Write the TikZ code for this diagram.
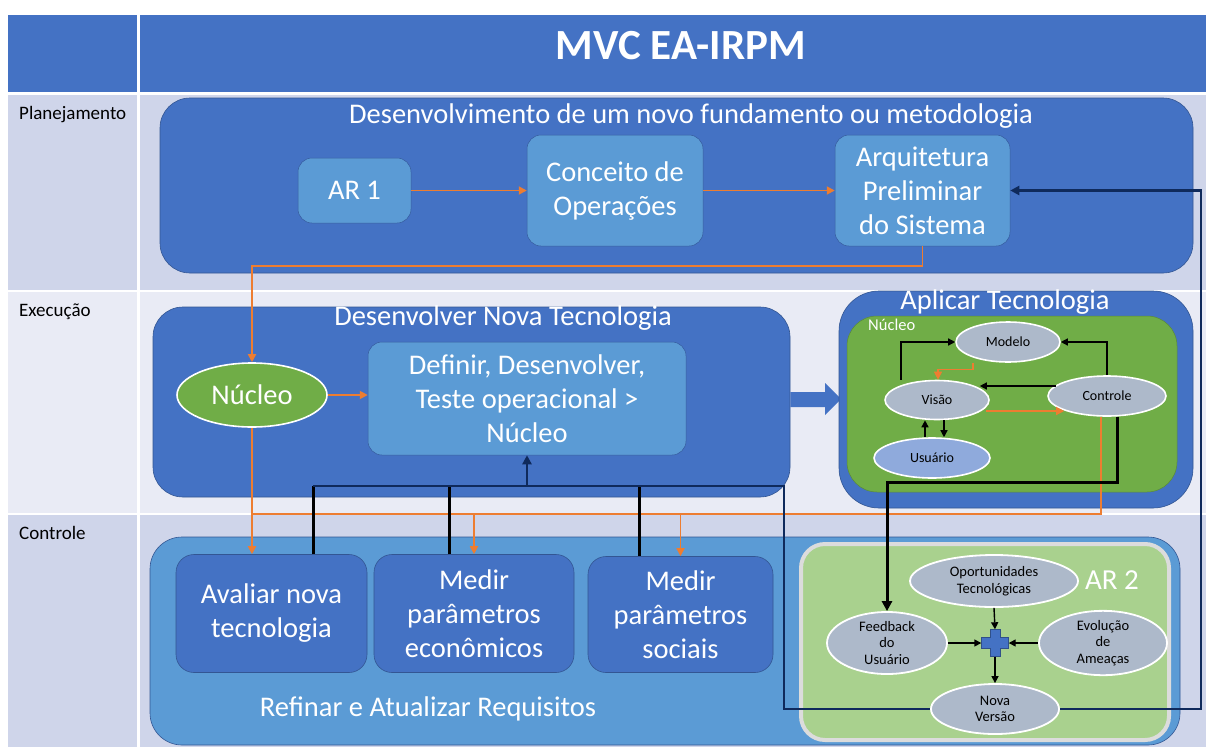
\documentclass[tikz,border=0pt]{standalone}
\usepackage{fontspec}
\setmainfont{Carlito}
\usetikzlibrary{shapes.geometric,arrows.meta,calc}

\definecolor{hdrblue}{HTML}{4472C4}
\definecolor{midblue}{HTML}{5B9BD5}
\definecolor{rowdark}{HTML}{CFD5EA}
\definecolor{rowlight}{HTML}{E9EBF5}
\definecolor{leaf}{HTML}{70AD47}
\definecolor{paleleaf}{HTML}{A9D18E}
\definecolor{slate}{HTML}{ADB9CA}
\definecolor{skyell}{HTML}{8FAADC}
\definecolor{flow}{HTML}{ED7D31}
\definecolor{navyline}{HTML}{0F2A5C}
\definecolor{edgegray}{HTML}{DCDCDC}

\newcommand{\fsz}[2]{\fontsize{#1}{#2}\selectfont}

\tikzset{
  bigbox/.style={rounded corners=30pt, fill=hdrblue, draw=hdrblue!75!black, line width=0.6pt},
  stepbox/.style={rounded corners=14pt, fill=midblue, draw=hdrblue!80!black, line width=0.5pt,
    text=white, align=center, font=\fsz{28.5}{34}, inner sep=0pt},
  taskbox/.style={rounded corners=18pt, fill=hdrblue, draw=hdrblue!75!black, line width=0.6pt,
    text=white, align=center, font=\fsz{28.5}{34}, inner sep=0pt},
  oval/.style={ellipse, fill=slate, draw=white, line width=1.6pt, inner sep=0pt,
    align=center, font=\fsz{14}{16}},
  ovalb/.style={ellipse, fill=slate, draw=white, line width=1.8pt, inner sep=0pt,
    align=center, font=\fsz{14.5}{16.5}},
  whitetxt/.style={text=white, inner sep=0pt},
  oarr/.style={draw=flow, line width=1.8pt, -{Triangle[length=8pt,width=8pt]}},
  oline/.style={draw=flow, line width=1.8pt},
  karr/.style={draw=black, line width=1.4pt, -{Triangle[length=7pt,width=7pt]}},
  kthick/.style={draw=black, line width=3pt},
  narr/.style={draw=navyline, line width=2.6pt, -{Triangle[length=9pt,width=9pt]}},
  nline/.style={draw=navyline, line width=2.6pt},
}

\begin{document}
\begin{tikzpicture}[x=1pt,y=-1pt]
\useasboundingbox (0,0) rectangle (1206,747);
\fill[white] (0,0) rectangle (1206,747);

% ---- table frame ----
\fill[hdrblue] (8,15) rectangle (137,92);
\fill[hdrblue] (140,15) rectangle (1206,92);
\fill[rowdark] (8,95) rectangle (137,290);
\fill[rowdark] (140,95) rectangle (1206,290);
\fill[rowlight] (8,292) rectangle (137,513);
\fill[rowlight] (140,292) rectangle (1206,513);
\fill[rowdark] (8,515) rectangle (137,747);
\fill[rowdark] (140,515) rectangle (1206,747);

\node[whitetxt, font=\fsz{43}{50}\bfseries] (title) at (681,46) {MVC EA-IRPM};
\node[anchor=base west, inner sep=0pt, font=\fsz{19}{22}] (lplan) at (19,119) {Planejamento};
\node[anchor=base west, inner sep=0pt, font=\fsz{19}{22}] (lexec) at (19,316) {Execução};
\node[anchor=base west, inner sep=0pt, font=\fsz{19}{22}] (lctrl) at (19,539) {Controle};

% ---- planning ----
\node[bigbox, minimum width=1033, minimum height=175] (plan) at (676.5,185.5) {};
\node[whitetxt, font=\fsz{28.5}{32}] (plant) at (691,116) {Desenvolvimento de um novo fundamento ou metodologia};
\node[stepbox, minimum width=113, minimum height=65] (ar1) at (354.5,190.5) {AR 1};
\node[stepbox, minimum width=176, minimum height=111] (conc) at (615,190.5) {Conceito de\\Operações};
\node[stepbox, minimum width=175, minimum height=111] (arq) at (922.5,190.5) {Arquitetura\\Preliminar\\do Sistema};

% ---- execution ----
\node[bigbox, minimum width=637, minimum height=190] (dev) at (471.5,402) {};
\node[whitetxt, font=\fsz{28.5}{32}] (devt) at (503,318) {Desenvolver Nova Tecnologia};
\node[ellipse, fill=leaf, draw=white, line width=1.6pt, minimum width=150, minimum height=64,
  inner sep=0pt, text=white, font=\fsz{28.5}{32}] (nuc) at (252,395) {Núcleo};
\node[stepbox, minimum width=318, minimum height=113] (def) at (527,398.5)
  {Definir, Desenvolver,\\Teste operacional >\\Núcleo};

% block arrow into the MVC core
\fill[hdrblue] (dev.east |- 0,392) -- (825,392) -- (825,383) -- (841,399) -- (825,415)
  -- (825,407) -- (dev.east |- 0,407) -- cycle;

\node[bigbox, rounded corners=40pt, minimum width=354, minimum height=217] (apl) at (1016,399.5) {};
\node[whitetxt, font=\fsz{28.5}{32}] (aplt) at (1005,302) {Aplicar Tecnologia};
\node[rounded corners=30pt, fill=leaf, draw=leaf!80!black, line width=0.5pt,
  minimum width=330, minimum height=176] (core) at (1012,404) {};
\node[whitetxt, font=\fsz{16.5}{18}, anchor=west] (coret) at (868,325) {Núcleo};

\node[oval, minimum width=104, minimum height=40] (mod) at (1008,342) {Modelo};
\node[oval, minimum width=104, minimum height=39] (vis) at (937,400) {Visão};
\node[oval, minimum width=118, minimum height=40] (ctl) at (1107,396) {Controle};
\node[oval, fill=skyell, minimum width=116, minimum height=40] (usr) at (932,458) {Usuário};

\draw[karr] ([xshift=-36pt]vis.north) |- (mod.west);
\draw[karr] (ctl.north) |- (mod.east);
\draw[karr] ([xshift=9pt,yshift=10pt]ctl.west) -- ([xshift=-10pt,yshift=14pt]vis.east);
\draw[oarr, line width=1.2pt] ([xshift=-35pt]mod.south) -- ++(0,7) -| ([xshift=1pt]vis.north);
\draw[oarr, line width=1.2pt] ([xshift=-4pt,yshift=-11pt]vis.east) -- ([xshift=17pt,yshift=-15pt]ctl.west);
\draw[karr] ([xshift=-7pt]usr.north) -- ([xshift=-12pt]vis.south);
\draw[karr] ([xshift=7pt]vis.south) -- ([xshift=12pt]usr.north);

% ---- control ----
\node[bigbox, fill=midblue, rounded corners=32pt, minimum width=1030, minimum height=208] (ref) at (665,641) {};
\node[whitetxt, font=\fsz{28.5}{32}] (reft) at (428,709) {Refinar e Atualizar Requisitos};
\node[taskbox, minimum width=191, minimum height=118] (aval) at (271.5,613.5) {Avaliar nova\\tecnologia};
\node[taskbox, minimum width=200, minimum height=118] (econ) at (474,613.5) {Medir\\parâmetros\\econômicos};
\node[taskbox, minimum width=185, minimum height=116] (soc) at (680.5,614.5) {Medir\\parâmetros\\sociais};

\node[rounded corners=24pt, fill=paleleaf, draw=edgegray, line width=4pt,
  minimum width=368, minimum height=196] (ar2) at (985,642) {};
\node[whitetxt, font=\fsz{29}{34}] (ar2t) at (1112,580) {AR 2};
\node[ovalb, minimum width=168, minimum height=52] (opp) at (994,581) {Oportunidades\\Tecnológicas};
\node[ovalb, minimum width=120, minimum height=62] (fb) at (887,643) {Feedback\\do\\Usuário};
\node[ovalb, minimum width=128, minimum height=64] (evo) at (1103,643) {Evolução\\de\\Ameaças};
\node[ovalb, minimum width=128, minimum height=50] (nv) at (995,709) {Nova\\Versão};
\node[minimum size=27, inner sep=0pt] (plus) at (995,643) {};
\filldraw[fill=hdrblue, draw=hdrblue!70!black, line width=0.5pt]
  ($(plus.center)+(-5,-13.5)$) -- ++(10,0) -- ++(0,8) -- ++(8.5,0) -- ++(0,11) -- ++(-8.5,0)
  -- ++(0,8) -- ++(-10,0) -- ++(0,-8) -- ++(-8.5,0) -- ++(0,-11) -- ++(8.5,0) -- cycle;
\draw[karr] (opp.south) -- (plus.north);
\draw[karr] (fb.east) -- (plus.west);
\draw[karr] (evo.west) -- (plus.east);
\draw[karr] (plus.south) -- (nv.north);

% ---- orange flow ----
\draw[oarr] (ar1.east) -- (conc.west);
\draw[oarr] (conc.east) -- (arq.west);
\draw[oarr] (arq.south) -- ++(0,20) -| (nuc.north);
\draw[oarr] (nuc.east) -- (nuc.east -| def.west);
\draw[oarr] (nuc.south) -- (nuc.south |- aval.north);
\coordinate (obus) at (253,514);
\draw[oline] ([xshift=-6pt]ctl.south) |- (obus);
\draw[oarr] (econ.north |- obus) -- (econ.north);
\draw[oarr] (soc.north |- obus) -- (soc.north);

% ---- requirement feedback network ----
\coordinate (jA) at (313,486);
\coordinate (jB) at (449,486);
\coordinate (jC) at (639,486);
\coordinate (jD) at (784,486);
\coordinate (rtop) at (1201,190.5);
\draw[kthick] (jA |- aval.north) -- (jA);
\draw[kthick] (jB |- econ.north) -- (jB);
\draw[kthick] (jC |- soc.north) -- (jC);
\draw[nline] (jA) -- (jD) -- (jD |- nv.west) -- (nv.west);
\draw[narr] (def.south |- jA) -- (def.south);
\draw[narr] (nv.east) -| (rtop) -- (arq.east);

% Controle feeds the user feedback
\draw[kthick, -{Triangle[length=10pt,width=10pt]}] ([xshift=10pt]ctl.south) -- ++(0,66) -| (fb.north);
\end{tikzpicture}
\end{document}
